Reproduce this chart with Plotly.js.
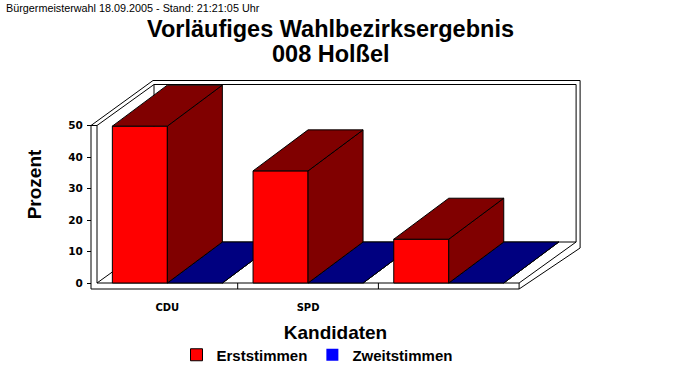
<!DOCTYPE html>
<html><head><meta charset="utf-8">
<script src="https://cdn.plot.ly/plotly-3.0.1.min.js"></script>
<style>html,body{margin:0;padding:0;background:#fff;}#chart{width:683px;height:380px;}</style>
</head><body><div id="chart"></div>
<script>
// ---- data ----
const categories = ['CDU', 'SPD', ''];
const erststimmen = [49.8, 35.6, 13.9];
const zweitstimmen = [0, 0, 0];
const yTicks = [0, 10, 20, 30, 40, 50];
const seriesNames = ['Erststimmen', 'Zweitstimmen'];
const titleLines = ['Vorläufiges Wahlbezirksergebnis', '008 Holßel'];

// ---- geometry (pixels) ----
const X0 = 97, Y0 = 283;          // pixel of x=0 / y=0 on the front plane
const KX = 140.7, KY = 3.15;      // px per category / per percent
const L = 89, R = 582, T = 78, B = 291;
const xr = [(L - X0) / KX, (R - X0) / KX];
const yr = [(Y0 - B) / KY, (Y0 - T) / KY];
const px = v => v / KX, py = v => v / KY;

const N = categories.length;
const YMAX = yTicks[yTicks.length - 1];
const BW = px(55);                     // bar width
const BDX = px(55), BDY = py(41);      // bar depth
const DX = px(57), DY = py(41);        // wall depth
const tX = px(6), tY = py(6);          // front wall thickness
const bX = px(4), bY = py(4);          // back wall thickness
const pos = categories.map((c, i) => i + 0.5);

// ---- 3D faces computed from the data ----
function faces(vals, off) {
  const side = {x: [], y: []}, top = {x: [], y: []};
  vals.forEach((v, i) => {
    const a = pos[i] + off, b = a + BW;
    side.x.push(b, b + BDX, b + BDX, b, b, null);
    side.y.push(0, BDY, v + BDY, v, 0, null);
    top.x.push(a, b, b + BDX, a + BDX, a, null);
    top.y.push(v, v, v + BDY, v + BDY, v, null);
  });
  return {side, top};
}
const red = faces(erststimmen, -BW);
const blue = faces(zweitstimmen, 0);

function poly(f, color, xa, ya) {
  return {type: 'scatter', mode: 'lines', x: f.x, y: f.y, fill: 'toself', fillcolor: color,
    line: {color: '#000', width: 1}, hoverinfo: 'skip', showlegend: false, xaxis: xa, yaxis: ya};
}

const traces = [
  // second series (drawn behind)
  poly(blue.side, '#000080', 'x', 'y'),
  poly(blue.top, '#000080', 'x', 'y'),
  {type: 'bar', name: seriesNames[1], x: pos, y: zweitstimmen, width: BW, offset: 0,
   marker: {color: '#0000FF', line: {width: 0}}, xaxis: 'x', yaxis: 'y', legendrank: 2},
  // first series (in front)
  {type: 'bar', name: seriesNames[0], x: pos, y: erststimmen, width: BW, offset: -BW,
   marker: {color: '#FF0000', line: {color: '#000', width: 1}}, xaxis: 'x2', yaxis: 'y2', legendrank: 1},
  poly(red.side, '#800000', 'x2', 'y2'),
  poly(red.top, '#800000', 'x2', 'y2'),
];

// ---- frame ----
const P = (x, y) => x + ',' + y;
const silhouette = 'M' + P(-tX, -tY) + 'L' + P(N, -tY) + 'L' + P(N + DX + bX, DY - tY) +
  'L' + P(N + DX + bX, YMAX + DY + bY) + 'L' + P(DX - px(1), YMAX + DY + bY) + 'L' + P(-tX, YMAX) + 'Z';
let inner = 'M' + P(-tX, YMAX) + 'L' + P(0, YMAX) + 'L' + P(0, 0) + 'L' + P(N, 0) + 'L' + P(N, -tY) +
  'M' + P(0, YMAX) + 'L' + P(DX, YMAX + DY) +
  'M' + P(0, 0) + 'L' + P(DX, DY) +
  'M' + P(N, 0) + 'L' + P(N + DX, DY) +
  'M' + P(DX, DY) + 'L' + P(N + DX, DY) + 'L' + P(N + DX, YMAX + DY) + 'L' + P(DX, YMAX + DY) + 'Z';
for (let i = 1; i < N; i++) inner += 'M' + P(i, 0) + 'L' + P(i, -tY);

const shapes = [
  {type: 'path', xref: 'x', yref: 'y', path: silhouette, fillcolor: '#fff', line: {color: '#000', width: 1}, layer: 'below'},
  {type: 'path', xref: 'x', yref: 'y', path: inner, line: {color: '#000', width: 1}, layer: 'below'},
];

const fx = p => (p - L) / (R - L), fy = p => (B - p) / (B - T);
const bold = (s, fam) => ({family: fam || '"Liberation Sans", Arial, sans-serif', size: s, color: '#000', weight: 'bold'});

const layout = {
  width: 683, height: 380,
  margin: {l: L, r: 683 - R, t: T, b: 380 - B, pad: 0, autoexpand: false},
  paper_bgcolor: '#fff', plot_bgcolor: 'rgba(0,0,0,0)',
  showlegend: true,
  title: {text: titleLines[0], font: bold(23.5),
          x: 330.5 / 683, xanchor: 'center', xref: 'container', y: 1 - 29 / 380, yanchor: 'middle', yref: 'container'},
  xaxis: {range: xr, tickvals: pos, ticktext: categories, ticks: '', showline: false, showgrid: false,
          zeroline: false, tickfont: bold(10, '"DejaVu Sans", sans-serif'), ticklabelstandoff: 9,
          title: {text: 'Kandidaten', font: bold(19), standoff: 13}, fixedrange: true},
  yaxis: {range: yr, anchor: 'free', position: fx(91), tickvals: yTicks, ticks: 'outside', ticklen: 4,
          tickcolor: '#000', tickwidth: 1, showline: false, showgrid: false, zeroline: false,
          tickfont: bold(10.5, '"DejaVu Sans", sans-serif'), ticklabelstandoff: 2,
          title: {text: 'Prozent', font: bold(19), standoff: 20}, fixedrange: true},
  xaxis2: {range: xr, overlaying: 'x', visible: false, fixedrange: true},
  yaxis2: {range: yr, overlaying: 'y', visible: false, fixedrange: true},
  legend: {orientation: 'h', x: fx(317), xanchor: 'center', y: fy(355), yanchor: 'middle',
           font: bold(15), bgcolor: 'rgba(0,0,0,0)', traceorder: 'normal'},
  shapes: shapes,
  annotations: [
    {text: 'Bürgermeisterwahl 18.09.2005 - Stand: 21:21:05 Uhr', showarrow: false,
     xref: 'paper', yref: 'paper', x: fx(4), y: fy(8), xanchor: 'left', yanchor: 'middle',
     font: {family: '"Liberation Sans", Arial, sans-serif', size: 10.8, color: '#000'}},
    {text: titleLines[1], showarrow: false, xref: 'paper', yref: 'paper', x: fx(331), y: fy(54),
     xanchor: 'center', yanchor: 'middle', font: bold(23.5)}
  ],
  bargap: 0,
};

Plotly.newPlot('chart', traces, layout, {displayModeBar: false, staticPlot: true});
</script>
</body></html>
